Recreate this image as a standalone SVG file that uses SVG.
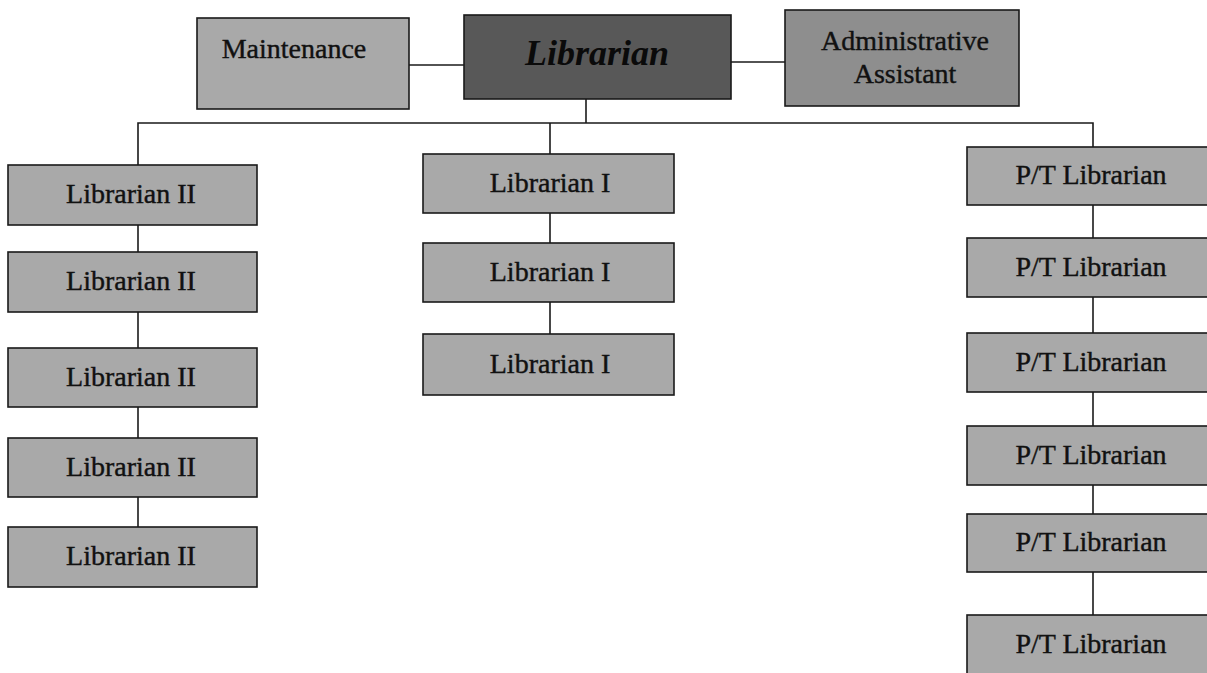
<svg xmlns="http://www.w3.org/2000/svg" width="1207" height="673" viewBox="0 0 1207 673">
  <style>
    .box { fill: #a9a9a9; stroke: #1a1a1a; stroke-width: 1.6; }
    .admin { fill: #8e8e8e; }
    .head { fill: #585858; }
    .lbl { font-family: "Liberation Serif", "Times New Roman", serif; font-size: 28px; text-anchor: middle; fill: #111; stroke: #111; stroke-width: 0.4; }
    .title { font-family: "Liberation Serif", "Times New Roman", serif; font-size: 36px; font-weight: bold; font-style: italic; text-anchor: middle; fill: #0a0a0a; }
    .conn { fill: none; stroke: #1a1a1a; stroke-width: 1.6; }
  </style>
  <rect width="1207" height="673" fill="#ffffff"/>
  <g id="connectors">
    <path class="conn" d="M409 65 H464"/>
    <path class="conn" d="M731 62 H785"/>
    <path class="conn" d="M586 99 V123"/>
    <path class="conn" d="M138 165 V123 H1093 V147"/>
    <path class="conn" d="M550 123 V154"/>
    <path class="conn" d="M138 225 V252"/>
    <path class="conn" d="M138 312 V348"/>
    <path class="conn" d="M138 407 V438"/>
    <path class="conn" d="M138 497 V527"/>
    <path class="conn" d="M550 213 V243"/>
    <path class="conn" d="M550 302 V334"/>
    <path class="conn" d="M1093 205 V238"/>
    <path class="conn" d="M1093 297 V333"/>
    <path class="conn" d="M1093 392 V426"/>
    <path class="conn" d="M1093 485 V514"/>
    <path class="conn" d="M1093 572 V615"/>
  </g>
  <g id="maintenance">
    <rect class="box" x="197" y="18" width="212" height="91"/>
    <text class="lbl" x="294" y="58">Maintenance</text>
  </g>
  <g id="librarian">
    <rect class="box head" x="464" y="15" width="267" height="84"/>
    <text class="title" x="597" y="65">Librarian</text>
  </g>
  <g id="admin-assistant">
    <rect class="box admin" x="785" y="10" width="234" height="96"/>
    <text class="lbl" x="905" y="50">Administrative</text>
    <text class="lbl" x="905" y="83">Assistant</text>
  </g>
  <g id="librarian-ii-1">
    <rect class="box" x="8" y="165" width="249" height="60"/>
    <text class="lbl" x="131" y="203">Librarian II</text>
  </g>
  <g id="librarian-ii-2">
    <rect class="box" x="8" y="252" width="249" height="60"/>
    <text class="lbl" x="131" y="290">Librarian II</text>
  </g>
  <g id="librarian-ii-3">
    <rect class="box" x="8" y="348" width="249" height="59"/>
    <text class="lbl" x="131" y="386">Librarian II</text>
  </g>
  <g id="librarian-ii-4">
    <rect class="box" x="8" y="438" width="249" height="59"/>
    <text class="lbl" x="131" y="476">Librarian II</text>
  </g>
  <g id="librarian-ii-5">
    <rect class="box" x="8" y="527" width="249" height="60"/>
    <text class="lbl" x="131" y="565">Librarian II</text>
  </g>
  <g id="librarian-i-1">
    <rect class="box" x="423" y="154" width="251" height="59"/>
    <text class="lbl" x="550" y="192">Librarian I</text>
  </g>
  <g id="librarian-i-2">
    <rect class="box" x="423" y="243" width="251" height="59"/>
    <text class="lbl" x="550" y="281">Librarian I</text>
  </g>
  <g id="librarian-i-3">
    <rect class="box" x="423" y="334" width="251" height="61"/>
    <text class="lbl" x="550" y="373">Librarian I</text>
  </g>
  <g id="pt-librarian-1">
    <rect class="box" x="967" y="147" width="250" height="58"/>
    <text class="lbl" x="1091" y="184">P/T Librarian</text>
  </g>
  <g id="pt-librarian-2">
    <rect class="box" x="967" y="238" width="250" height="59"/>
    <text class="lbl" x="1091" y="276">P/T Librarian</text>
  </g>
  <g id="pt-librarian-3">
    <rect class="box" x="967" y="333" width="250" height="59"/>
    <text class="lbl" x="1091" y="371">P/T Librarian</text>
  </g>
  <g id="pt-librarian-4">
    <rect class="box" x="967" y="426" width="250" height="59"/>
    <text class="lbl" x="1091" y="464">P/T Librarian</text>
  </g>
  <g id="pt-librarian-5">
    <rect class="box" x="967" y="514" width="250" height="58"/>
    <text class="lbl" x="1091" y="551">P/T Librarian</text>
  </g>
  <g id="pt-librarian-6">
    <rect class="box" x="967" y="615" width="250" height="60"/>
    <text class="lbl" x="1091" y="653">P/T Librarian</text>
  </g>
</svg>
